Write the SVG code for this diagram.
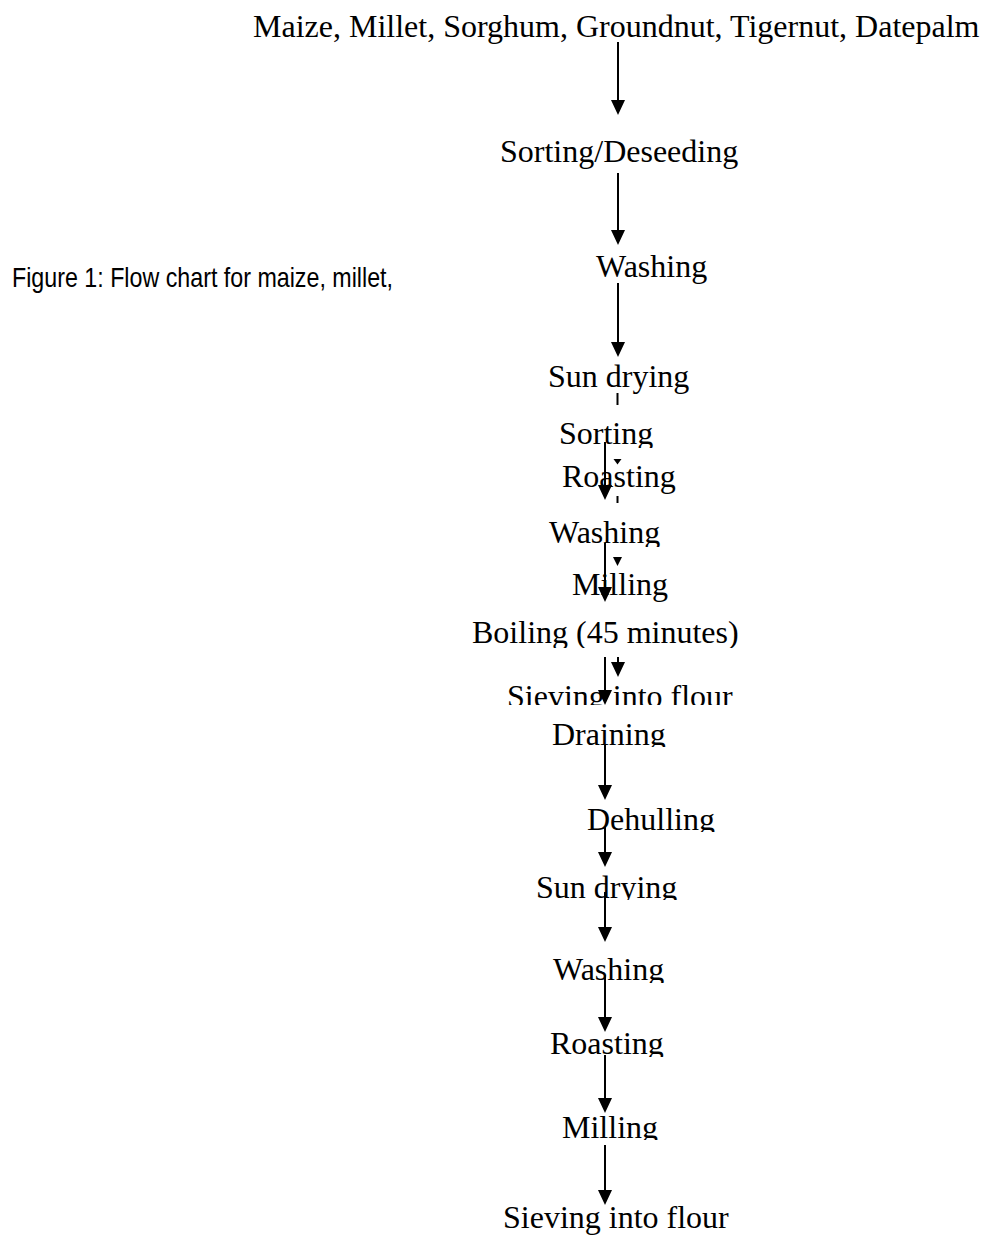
<svg xmlns="http://www.w3.org/2000/svg" width="982" height="1235" viewBox="0 0 982 1235">
<style>
.t{font-family:"Liberation Serif","Times New Roman",serif;font-size:32px;fill:#000}
.cap{font-family:"Liberation Sans Narrow","Arial Narrow","Liberation Sans",Arial,sans-serif;font-size:28px;fill:#000}
.c{stroke:#000;stroke-width:2;fill:none}
.h{fill:#000;stroke:none}
</style>
<defs>
<marker id="ah" markerUnits="userSpaceOnUse" viewBox="0 0 15 14" markerWidth="15" markerHeight="14" refX="5" refY="7" orient="auto">
<path d="M0,0 L15,7 L0,14 z" fill="#000"/>
</marker>
<clipPath id="k1" clipPathUnits="userSpaceOnUse"><rect x="0" y="400" width="982" height="48"/></clipPath>
<clipPath id="k2" clipPathUnits="userSpaceOnUse"><rect x="0" y="500" width="982" height="47"/></clipPath>
<clipPath id="k3" clipPathUnits="userSpaceOnUse"><rect x="0" y="600" width="982" height="48"/></clipPath>
<clipPath id="k4" clipPathUnits="userSpaceOnUse"><rect x="0" y="660" width="982" height="45"/></clipPath>
<clipPath id="k5" clipPathUnits="userSpaceOnUse"><rect x="0" y="700" width="982" height="47"/></clipPath>
<clipPath id="k6" clipPathUnits="userSpaceOnUse"><rect x="0" y="790" width="982" height="42"/></clipPath>
<clipPath id="k7" clipPathUnits="userSpaceOnUse"><rect x="0" y="860" width="982" height="40"/></clipPath>
<clipPath id="k8" clipPathUnits="userSpaceOnUse"><rect x="0" y="940" width="982" height="43"/></clipPath>
<clipPath id="k9" clipPathUnits="userSpaceOnUse"><rect x="0" y="1010" width="982" height="47"/></clipPath>
<clipPath id="k10" clipPathUnits="userSpaceOnUse"><rect x="0" y="1100" width="982" height="40"/></clipPath>
</defs>
<rect x="0" y="0" width="982" height="1235" fill="#fff"/>

<g id="caption"><text class="cap" x="12" y="287" textLength="381" lengthAdjust="spacingAndGlyphs">Figure 1: Flow chart for maize, millet,</text></g>

<g id="n-raw"><text class="t" x="253" y="37">Maize, Millet, Sorghum, Groundnut, Tigernut, Datepalm</text></g>
<g id="n-sorting-deseeding"><text class="t" x="500" y="162">Sorting/Deseeding</text></g>
<g id="n-washing1"><text class="t" x="596" y="277">Washing</text></g>
<g id="n-sundrying1"><text class="t" x="548" y="387">Sun drying</text></g>
<g id="n-sorting" clip-path="url(#k1)"><text class="t" x="559" y="444">Sorting</text></g>
<g id="n-roasting1"><text class="t" x="562" y="487">Roasting</text></g>
<g id="n-washing2" clip-path="url(#k2)"><text class="t" x="549" y="543">Washing</text></g>
<g id="n-milling1"><text class="t" x="572" y="595">Milling</text></g>
<g id="n-boiling" clip-path="url(#k3)"><text class="t" x="472" y="643">Boiling (45 minutes)</text></g>
<g id="n-sieving1" clip-path="url(#k4)"><text class="t" x="507" y="707">Sieving into flour</text></g>
<g id="n-draining" clip-path="url(#k5)"><text class="t" x="552" y="745">Draining</text></g>
<g id="n-dehulling" clip-path="url(#k6)"><text class="t" x="587" y="830">Dehulling</text></g>
<g id="n-sundrying2" clip-path="url(#k7)"><text class="t" x="536" y="898">Sun drying</text></g>
<g id="n-washing3" clip-path="url(#k8)"><text class="t" x="553" y="980">Washing</text></g>
<g id="n-roasting2" clip-path="url(#k9)"><text class="t" x="550" y="1054">Roasting</text></g>
<g id="n-milling2" clip-path="url(#k10)"><text class="t" x="562" y="1138">Milling</text></g>
<g id="n-sieving2"><text class="t" x="503" y="1228">Sieving into flour</text></g>

<g id="connectors">
<line class="c" x1="618" y1="42" x2="618" y2="105" marker-end="url(#ah)"/>
<line class="c" x1="618" y1="173" x2="618" y2="235" marker-end="url(#ah)"/>
<line class="c" x1="618" y1="283" x2="618" y2="347" marker-end="url(#ah)"/>

<line class="c" x1="617.5" y1="393" x2="617.5" y2="405"/>
<polygon class="h" points="613.5,459 621.5,459 617.5,464.5"/>
<line class="c" x1="617.5" y1="496" x2="617.5" y2="503"/>
<polygon class="h" points="613,557 622,557 617.5,566"/>
<line class="c" x1="618" y1="657" x2="618" y2="667" marker-end="url(#ah)"/>

<line class="c" x1="605" y1="442" x2="605" y2="490" marker-end="url(#ah)"/>
<line class="c" x1="605" y1="543" x2="605" y2="592" marker-end="url(#ah)"/>
<line class="c" x1="605" y1="657" x2="605" y2="695" marker-end="url(#ah)"/>
<line class="c" x1="605" y1="745" x2="605" y2="790" marker-end="url(#ah)"/>
<line class="c" x1="605" y1="827" x2="605" y2="857" marker-end="url(#ah)"/>
<line class="c" x1="605" y1="892" x2="605" y2="932" marker-end="url(#ah)"/>
<line class="c" x1="605" y1="975" x2="605" y2="1022" marker-end="url(#ah)"/>
<line class="c" x1="605" y1="1055" x2="605" y2="1103" marker-end="url(#ah)"/>
<line class="c" x1="605" y1="1145" x2="605" y2="1195" marker-end="url(#ah)"/>
</g>
</svg>
